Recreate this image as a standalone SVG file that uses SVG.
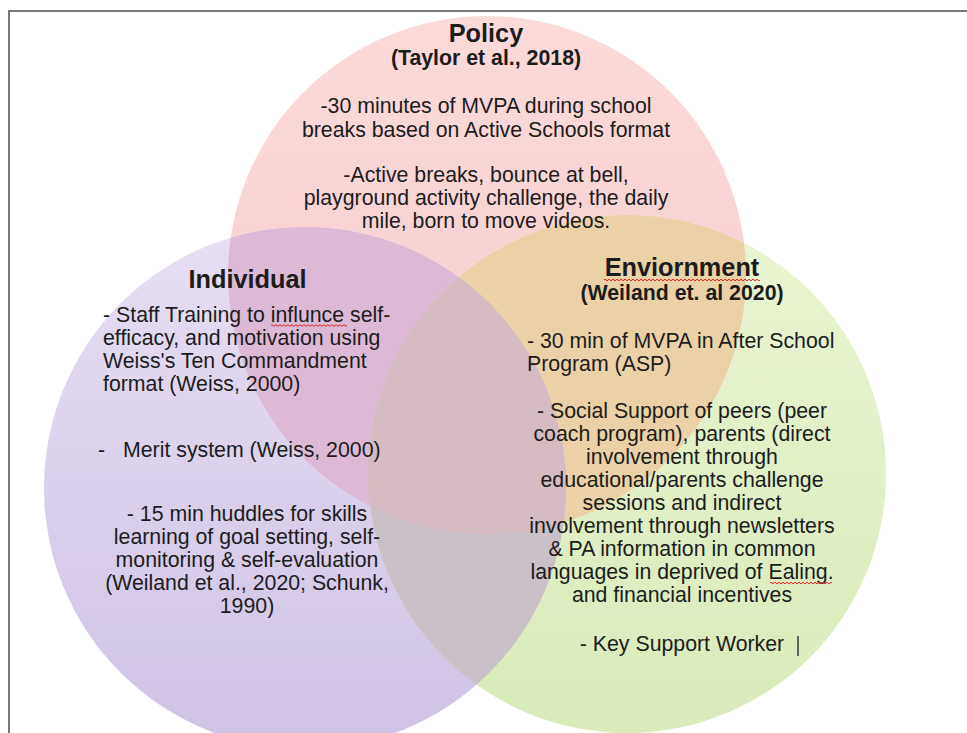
<svg xmlns="http://www.w3.org/2000/svg" width="967" height="733" viewBox="0 0 967 733">
  <style>
    text { font-family: "Liberation Sans", Arial, sans-serif; fill: #1c1c1c; }
    .title { font-size: 25.3px; font-weight: bold; }
    .sub { font-size: 21.3px; font-weight: bold; }
    .body { font-size: 21.3px; }
    .mid { text-anchor: middle; }
    .frame { stroke: #4d4d4d; stroke-width: 1.5; fill: none; }
    .spell { stroke: #e02020; stroke-width: 1; fill: none; }
    .caret { stroke: #3a3340; stroke-width: 1.5; }
  </style>
  <defs>
    <linearGradient id="gPolicy" x1="0" y1="0" x2="0" y2="1">
      <stop offset="0" stop-color="#fcdada"/>
      <stop offset="1" stop-color="#f6cbcb"/>
    </linearGradient>
    <linearGradient id="gIndividual" x1="0" y1="0" x2="0" y2="1">
      <stop offset="0" stop-color="#e7dff3"/>
      <stop offset="1" stop-color="#cfc2e4"/>
    </linearGradient>
    <linearGradient id="gEnvironment" x1="0" y1="0" x2="0" y2="1">
      <stop offset="0" stop-color="#eaf5d3"/>
      <stop offset="1" stop-color="#d9ebb9"/>
    </linearGradient>
    <clipPath id="clipPolicy"><circle cx="487" cy="275" r="259"/></clipPath>
    <clipPath id="clipIndividual"><circle cx="305" cy="488" r="261"/></clipPath>
  </defs>

  <!-- page frame -->
  <path class="frame" d="M9 733 V11 H967"/>

  <!-- the three sets -->
  <g id="sets">
    <circle id="set-policy" cx="487" cy="275" r="259" fill="url(#gPolicy)"/>
    <circle id="set-individual" cx="305" cy="488" r="261" fill="url(#gIndividual)"/>
    <circle id="set-environment" cx="627" cy="474" r="259" fill="url(#gEnvironment)"/>
  </g>

  <!-- overlaps between the sets -->
  <g id="overlaps">
    <circle cx="305" cy="488" r="261" fill="#dcbad6" clip-path="url(#clipPolicy)"/>
    <circle cx="627" cy="474" r="259" fill="#ebd2a6" clip-path="url(#clipPolicy)"/>
    <circle cx="627" cy="474" r="259" fill="#c9c0c8" clip-path="url(#clipIndividual)"/>
    <g clip-path="url(#clipPolicy)">
      <circle cx="627" cy="474" r="259" fill="#d4bcc2" clip-path="url(#clipIndividual)"/>
    </g>
  </g>

  <g id="policy">
    <text class="title mid" x="486" y="42">Policy</text>
    <text class="sub mid" x="486" y="65">(Taylor et al., 2018)</text>
    <text class="body mid" x="486" y="113">-30 minutes of MVPA during school</text>
    <text class="body mid" x="486" y="137">breaks based on Active Schools format</text>
    <text class="body mid" x="486" y="182">-Active breaks, bounce at bell,</text>
    <text class="body mid" x="486" y="205">playground activity challenge, the daily</text>
    <text class="body mid" x="486" y="228">mile, born to move videos.</text>
  </g>

  <g id="individual">
    <text class="title mid" x="247.5" y="288">Individual</text>
    <text class="body" x="103" y="322">- Staff Training to influnce self-</text>
    <path class="spell" d="M271 325.5 q1 -1.6 2 0 t2 0 t2 0 t2 0 t2 0 t2 0 t2 0 t2 0 t2 0 t2 0 t2 0 t2 0 t2 0 t2 0 t2 0 t2 0 t2 0 t2 0 t2 0 t2 0 t2 0 t2 0 t2 0 t2 0 t2 0 t2 0 t2 0 t2 0 t2 0 t2 0 t2 0 t2 0 t2 0 t2 0 t2 0 t2 0 t2 0 t2 0"/>
    <text class="body" x="103" y="345">efficacy, and motivation using</text>
    <text class="body" x="103" y="368">Weiss's Ten Commandment</text>
    <text class="body" x="103" y="391">format (Weiss, 2000)</text>
    <text class="body" x="98" y="457">-</text>
    <text class="body" x="123" y="457">Merit system (Weiss, 2000)</text>
    <text class="body mid" x="247" y="521">- 15 min huddles for skills</text>
    <text class="body mid" x="247" y="544">learning of goal setting, self-</text>
    <text class="body mid" x="247" y="567">monitoring &amp; self-evaluation</text>
    <text class="body mid" x="247" y="590">(Weiland et al., 2020; Schunk,</text>
    <text class="body mid" x="247" y="613">1990)</text>
  </g>

  <g id="environment">
    <text class="title mid" x="682" y="276">Enviornment</text>
    <path class="spell" d="M604 280 q1 -1.6 2 0 t2 0 t2 0 t2 0 t2 0 t2 0 t2 0 t2 0 t2 0 t2 0 t2 0 t2 0 t2 0 t2 0 t2 0 t2 0 t2 0 t2 0 t2 0 t2 0 t2 0 t2 0 t2 0 t2 0 t2 0 t2 0 t2 0 t2 0 t2 0 t2 0 t2 0 t2 0 t2 0 t2 0 t2 0 t2 0 t2 0 t2 0 t2 0 t2 0 t2 0 t2 0 t2 0 t2 0 t2 0 t2 0 t2 0 t2 0 t2 0 t2 0 t2 0 t2 0 t2 0 t2 0 t2 0 t2 0 t2 0 t2 0 t2 0 t2 0 t2 0 t2 0 t2 0 t2 0 t2 0 t2 0 t2 0 t2 0 t2 0 t2 0 t2 0 t2 0 t2 0 t2 0 t2 0 t2 0 t2 0 t2 0"/>
    <text class="sub mid" x="682" y="300">(Weiland et. al 2020)</text>
    <text class="body" x="527" y="348">- 30 min of MVPA in After School</text>
    <text class="body" x="527" y="371">Program (ASP)</text>
    <text class="body mid" x="682" y="418">- Social Support of peers (peer</text>
    <text class="body mid" x="682" y="441">coach program), parents (direct</text>
    <text class="body mid" x="682" y="464">involvement through</text>
    <text class="body mid" x="682" y="487">educational/parents challenge</text>
    <text class="body mid" x="682" y="510">sessions and indirect</text>
    <text class="body mid" x="682" y="533">involvement through newsletters</text>
    <text class="body mid" x="682" y="556">&amp; PA information in common</text>
    <text class="body mid" x="682" y="579">languages in deprived of Ealing.</text>
    <path class="spell" d="M770 583 q1 -1.6 2 0 t2 0 t2 0 t2 0 t2 0 t2 0 t2 0 t2 0 t2 0 t2 0 t2 0 t2 0 t2 0 t2 0 t2 0 t2 0 t2 0 t2 0 t2 0 t2 0 t2 0 t2 0 t2 0 t2 0 t2 0 t2 0 t2 0 t2 0 t2 0 t2 0 t2 0"/>
    <text class="body mid" x="682" y="602">and financial incentives</text>
    <text class="body mid" x="682" y="651">- Key Support Worker</text>
    <line class="caret" x1="798" y1="636" x2="798" y2="656"/>
  </g>
</svg>
